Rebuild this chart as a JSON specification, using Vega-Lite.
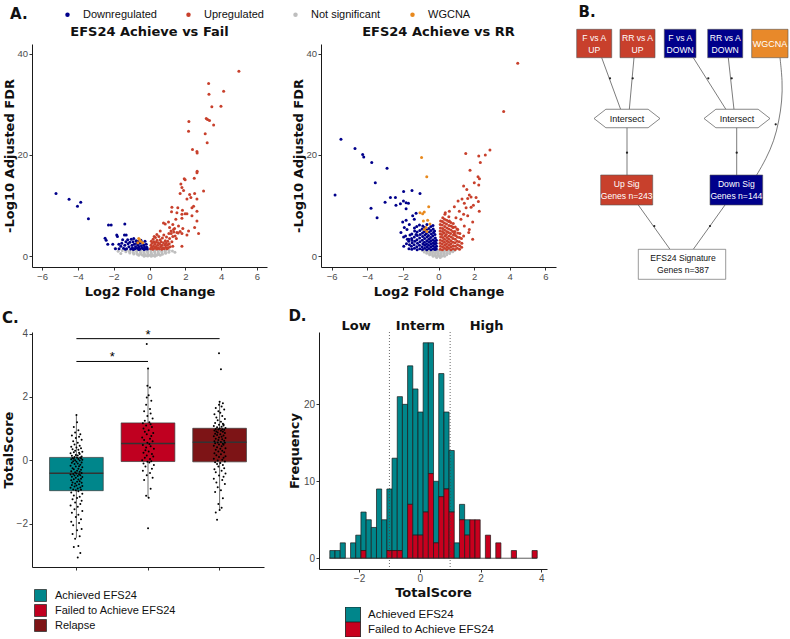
{
"$schema": "https://vega.github.io/schema/vega-lite/v6.json",
"background": "white",
"padding": {"left": 2, "top": 5, "right": 0, "bottom": 0},
"config": {
  "font": "Liberation Sans",
  "view": {"stroke": null},
  "axis": {"grid": false, "domainColor": "#1a1a1a", "domainWidth": 1, "tickColor": "#333", "tickSize": 3, "labelColor": "#4D4D4D", "labelFontSize": 10, "labelFont": "Liberation Sans", "titleFont": "DejaVu Sans", "titleFontWeight": "bold", "titleFontSize": 13, "titleColor": "#111", "labelPadding": 1.5, "titlePadding": 1},
  "title": {"font": "DejaVu Sans", "fontWeight": "bold", "fontSize": 13, "color": "#111"},
  "legend": {"labelFont": "Liberation Sans", "labelFontSize": 11, "labelColor": "#111", "titleFont": "DejaVu Sans"}
},
"datasets": {
"volL": [
{"x":-1.52,"y":1.15,"c":"N"},{"x":-1.3,"y":1.22,"c":"N"},{"x":-1.1,"y":1.1,"c":"N"},{"x":-0.9,"y":1.25,"c":"N"},{"x":-0.7,"y":1.18,"c":"N"},{"x":-0.5,"y":1.24,"c":"N"},{"x":-0.3,"y":1.12,"c":"N"},{"x":-0.1,"y":1.2,"c":"N"},{"x":0.1,"y":1.26,"c":"N"},{"x":0.3,"y":1.15,"c":"N"},{"x":0.5,"y":1.22,"c":"N"},{"x":0.7,"y":1.1,"c":"N"},{"x":0.9,"y":1.2,"c":"N"},{"x":1.1,"y":1.16,"c":"N"},{"x":1.28,"y":1.05,"c":"N"},
{"x":-1.32,"y":0.9,"c":"N"},{"x":-1.12,"y":0.95,"c":"N"},{"x":-0.92,"y":0.85,"c":"N"},{"x":-0.72,"y":0.98,"c":"N"},{"x":-0.52,"y":0.92,"c":"N"},{"x":-0.32,"y":0.88,"c":"N"},{"x":-0.12,"y":0.96,"c":"N"},{"x":0.08,"y":0.9,"c":"N"},{"x":0.28,"y":0.94,"c":"N"},{"x":0.48,"y":0.86,"c":"N"},{"x":0.68,"y":0.97,"c":"N"},{"x":0.88,"y":0.9,"c":"N"},{"x":1.08,"y":0.82,"c":"N"},
{"x":-1.1,"y":0.65,"c":"N"},{"x":-0.9,"y":0.7,"c":"N"},{"x":-0.7,"y":0.6,"c":"N"},{"x":-0.5,"y":0.72,"c":"N"},{"x":-0.3,"y":0.66,"c":"N"},{"x":-0.1,"y":0.7,"c":"N"},{"x":0.1,"y":0.64,"c":"N"},{"x":0.3,"y":0.72,"c":"N"},{"x":0.5,"y":0.62,"c":"N"},{"x":0.7,"y":0.68,"c":"N"},{"x":0.9,"y":0.6,"c":"N"},
{"x":-0.88,"y":0.45,"c":"N"},{"x":-0.68,"y":0.4,"c":"N"},{"x":-0.48,"y":0.48,"c":"N"},{"x":-0.28,"y":0.42,"c":"N"},{"x":-0.08,"y":0.46,"c":"N"},{"x":0.12,"y":0.4,"c":"N"},{"x":0.32,"y":0.44,"c":"N"},{"x":0.52,"y":0.38,"c":"N"},{"x":0.72,"y":0.42,"c":"N"},
{"x":-0.6,"y":0.2,"c":"N"},{"x":-0.4,"y":0.25,"c":"N"},{"x":-0.2,"y":0.18,"c":"N"},{"x":0,"y":0.22,"c":"N"},{"x":0.2,"y":0.15,"c":"N"},{"x":0.4,"y":0.24,"c":"N"},{"x":0.6,"y":0.2,"c":"N"},
{"x":-0.3,"y":0.02,"c":"N"},{"x":-0.1,"y":0.05,"c":"N"},{"x":0.1,"y":0,"c":"N"},{"x":0.3,"y":0.04,"c":"N"},
{"x":-1.92,"y":1.6,"c":"N"},{"x":-1.75,"y":1.0,"c":"N"},{"x":-1.6,"y":0.55,"c":"N"},{"x":1.42,"y":0.8,"c":"N"},
{"x":-5.22,"y":12.4,"c":"D"},{"x":-4.49,"y":11.25,"c":"D"},{"x":-4.02,"y":9.9,"c":"D"},{"x":-3.84,"y":10.7,"c":"D"},{"x":-3.41,"y":7.4,"c":"D"},{"x":-2.29,"y":6.2,"c":"D"},{"x":-2.14,"y":6.2,"c":"D"},{"x":-1.38,"y":6.4,"c":"D"},{"x":-2.42,"y":3.2,"c":"D"},{"x":-2.48,"y":3.55,"c":"D"},{"x":-1.83,"y":4.2,"c":"D"},{"x":-1.79,"y":3.9,"c":"D"},{"x":-2.33,"y":2.4,"c":"D"},{"x":-2.05,"y":2.4,"c":"D"},{"x":-1.71,"y":2.4,"c":"D"},{"x":-1.4,"y":4.2,"c":"D"},{"x":-1.3,"y":4.2,"c":"D"},
{"x":-1.45,"y":1.6,"c":"D"},{"x":-1.38,"y":2.2,"c":"D"},{"x":-1.32,"y":2.9,"c":"D"},{"x":-1.28,"y":1.5,"c":"D"},{"x":-1.22,"y":3.3,"c":"D"},{"x":-1.2,"y":2.5,"c":"D"},{"x":-1.15,"y":1.9,"c":"D"},{"x":-1.1,"y":2.8,"c":"D"},{"x":-1.05,"y":1.45,"c":"D"},{"x":-1.02,"y":3.4,"c":"D"},{"x":-0.98,"y":2.2,"c":"D"},{"x":-0.95,"y":1.7,"c":"D"},{"x":-0.92,"y":2.9,"c":"D"},{"x":-0.88,"y":3.5,"c":"D"},{"x":-0.85,"y":2.4,"c":"D"},{"x":-0.82,"y":1.5,"c":"D"},{"x":-0.78,"y":1.9,"c":"D"},{"x":-0.75,"y":3.1,"c":"D"},{"x":-0.72,"y":2.6,"c":"D"},{"x":-0.68,"y":1.6,"c":"D"},{"x":-0.65,"y":2.2,"c":"D"},{"x":-0.62,"y":3.0,"c":"D"},{"x":-0.58,"y":1.9,"c":"D"},{"x":-0.55,"y":2.6,"c":"D"},{"x":-0.52,"y":1.45,"c":"D"},{"x":-0.48,"y":3.2,"c":"D"},{"x":-0.45,"y":2.1,"c":"D"},{"x":-0.42,"y":1.7,"c":"D"},{"x":-0.38,"y":2.7,"c":"D"},{"x":-0.35,"y":1.5,"c":"D"},{"x":-0.32,"y":2.3,"c":"D"},{"x":-0.28,"y":1.9,"c":"D"},{"x":-0.25,"y":3.0,"c":"D"},{"x":-0.22,"y":1.5,"c":"D"},{"x":-0.18,"y":2.4,"c":"D"},{"x":-0.15,"y":1.8,"c":"D"},{"x":-0.12,"y":1.45,"c":"D"},{"x":-1.6,"y":2.0,"c":"D"},{"x":-1.55,"y":2.6,"c":"D"},{"x":-1.5,"y":3.3,"c":"D"},{"x":-1.7,"y":1.5,"c":"D"},{"x":-1.9,"y":1.5,"c":"D"},{"x":-0.9,"y":1.35,"c":"D"},{"x":-1.35,"y":1.4,"c":"D"},{"x":-0.6,"y":1.35,"c":"D"},{"x":-0.3,"y":1.35,"c":"D"},
{"x":4.99,"y":36.5,"c":"U"},{"x":3.3,"y":34.1,"c":"U"},{"x":4.14,"y":32.6,"c":"U"},{"x":3.32,"y":32.0,"c":"U"},{"x":3.48,"y":29.5,"c":"U"},{"x":3.99,"y":29.6,"c":"U"},{"x":3.17,"y":27.2,"c":"U"},{"x":3.24,"y":27.0,"c":"U"},{"x":3.35,"y":26.8,"c":"U"},{"x":3.58,"y":25.9,"c":"U"},{"x":2.2,"y":26.6,"c":"U"},{"x":2.18,"y":24.7,"c":"U"},{"x":3.11,"y":24.2,"c":"U"},{"x":3.22,"y":22.4,"c":"U"},{"x":2.4,"y":21.1,"c":"U"},{"x":2.65,"y":20.7,"c":"U"},{"x":2.66,"y":20.4,"c":"U"},{"x":2.66,"y":16.8,"c":"U"},{"x":2.65,"y":16.5,"c":"U"},{"x":1.94,"y":15.3,"c":"U"},{"x":1.99,"y":15.1,"c":"U"},{"x":2.5,"y":15.4,"c":"U"},{"x":1.75,"y":14.3,"c":"U"},{"x":1.81,"y":13.6,"c":"U"},{"x":1.9,"y":13.0,"c":"U"},{"x":1.71,"y":12.4,"c":"U"},{"x":2.24,"y":12.2,"c":"U"},{"x":2.52,"y":12.4,"c":"U"},{"x":3.02,"y":12.9,"c":"U"},{"x":2.09,"y":11.3,"c":"U"},{"x":2.31,"y":11.6,"c":"U"},{"x":2.65,"y":11.3,"c":"U"},{"x":1.25,"y":9.7,"c":"U"},{"x":1.58,"y":9.6,"c":"U"},{"x":1.84,"y":9.1,"c":"U"},{"x":2.37,"y":9.6,"c":"U"},{"x":2.46,"y":9.9,"c":"U"},{"x":1.23,"y":8.8,"c":"U"},{"x":1.53,"y":8.6,"c":"U"},{"x":1.81,"y":8.3,"c":"U"},{"x":1.99,"y":8.4,"c":"U"},{"x":2.09,"y":8.4,"c":"U"},{"x":2.37,"y":8.0,"c":"U"},{"x":2.65,"y":8.9,"c":"U"},{"x":2.65,"y":7.0,"c":"U"},{"x":2.52,"y":5.7,"c":"U"},{"x":2.74,"y":4.5,"c":"U"},{"x":2.18,"y":5.0,"c":"U"},{"x":2.09,"y":4.2,"c":"U"},{"x":1.81,"y":7.5,"c":"U"},{"x":1.47,"y":7.3,"c":"U"},{"x":1.06,"y":6.8,"c":"U"},{"x":0.78,"y":6.6,"c":"U"},{"x":0.88,"y":6.4,"c":"U"},{"x":1.3,"y":6.3,"c":"U"},{"x":1.62,"y":6.0,"c":"U"},{"x":1.86,"y":5.5,"c":"U"},{"x":1.71,"y":4.9,"c":"U"},{"x":1.12,"y":5.7,"c":"U"},{"x":1.34,"y":5.3,"c":"U"},{"x":1.53,"y":4.7,"c":"U"},{"x":1.81,"y":4.5,"c":"U"},{"x":1.21,"y":4.5,"c":"U"},{"x":1.43,"y":4.0,"c":"U"},{"x":0.6,"y":5.0,"c":"U"},{"x":0.41,"y":4.3,"c":"U"},{"x":0.26,"y":3.9,"c":"U"},{"x":1.81,"y":2.0,"c":"U"},
{"x":0.05,"y":1.5,"c":"U"},{"x":0.08,"y":2.2,"c":"U"},{"x":0.1,"y":3.0,"c":"U"},{"x":0.12,"y":1.8,"c":"U"},{"x":0.15,"y":2.6,"c":"U"},{"x":0.18,"y":1.4,"c":"U"},{"x":0.2,"y":3.4,"c":"U"},{"x":0.22,"y":2.0,"c":"U"},{"x":0.25,"y":2.9,"c":"U"},{"x":0.28,"y":1.6,"c":"U"},{"x":0.3,"y":2.4,"c":"U"},{"x":0.33,"y":3.7,"c":"U"},{"x":0.35,"y":1.9,"c":"U"},{"x":0.38,"y":2.8,"c":"U"},{"x":0.4,"y":1.45,"c":"U"},{"x":0.42,"y":3.2,"c":"U"},{"x":0.45,"y":2.2,"c":"U"},{"x":0.48,"y":1.7,"c":"U"},{"x":0.5,"y":2.7,"c":"U"},{"x":0.52,"y":3.9,"c":"U"},{"x":0.55,"y":1.5,"c":"U"},{"x":0.58,"y":2.4,"c":"U"},{"x":0.6,"y":3.3,"c":"U"},{"x":0.62,"y":1.9,"c":"U"},{"x":0.65,"y":2.9,"c":"U"},{"x":0.68,"y":1.4,"c":"U"},{"x":0.7,"y":2.2,"c":"U"},{"x":0.72,"y":3.6,"c":"U"},{"x":0.75,"y":1.7,"c":"U"},{"x":0.78,"y":2.7,"c":"U"},{"x":0.8,"y":4.2,"c":"U"},{"x":0.82,"y":1.5,"c":"U"},{"x":0.85,"y":2.3,"c":"U"},{"x":0.88,"y":3.1,"c":"U"},{"x":0.9,"y":1.8,"c":"U"},{"x":0.93,"y":2.6,"c":"U"},{"x":0.95,"y":3.8,"c":"U"},{"x":0.98,"y":1.5,"c":"U"},{"x":1.0,"y":2.2,"c":"U"},{"x":1.02,"y":3.0,"c":"U"},{"x":1.05,"y":1.7,"c":"U"},{"x":1.08,"y":4.5,"c":"U"},{"x":1.1,"y":2.5,"c":"U"},{"x":1.12,"y":3.5,"c":"U"},{"x":1.15,"y":1.9,"c":"U"},{"x":1.2,"y":5.0,"c":"U"},{"x":1.25,"y":2.9,"c":"U"},{"x":1.3,"y":3.9,"c":"U"},{"x":1.35,"y":4.8,"c":"U"},{"x":1.4,"y":5.5,"c":"U"},{"x":1.5,"y":3.5,"c":"U"},{"x":1.6,"y":4.6,"c":"U"},{"x":1.3,"y":2.0,"c":"U"},
{"x":-0.6,"y":3.5,"c":"W"},{"x":-0.5,"y":3.0,"c":"W"},{"x":-0.38,"y":2.7,"c":"W"},{"x":-0.65,"y":2.7,"c":"W"},{"x":-0.55,"y":3.3,"c":"W"}
],
"volR": [
{"x":-0.9,"y":1.15,"c":"N"},{"x":-0.75,"y":1.22,"c":"N"},{"x":-0.6,"y":1.1,"c":"N"},{"x":-0.45,"y":1.25,"c":"N"},{"x":-0.3,"y":1.18,"c":"N"},{"x":-0.15,"y":1.24,"c":"N"},{"x":0,"y":1.12,"c":"N"},{"x":0.15,"y":1.2,"c":"N"},{"x":0.3,"y":1.26,"c":"N"},{"x":0.45,"y":1.15,"c":"N"},{"x":0.6,"y":1.22,"c":"N"},{"x":0.75,"y":1.1,"c":"N"},{"x":0.9,"y":1.18,"c":"N"},
{"x":-0.8,"y":0.88,"c":"N"},{"x":-0.64,"y":0.95,"c":"N"},{"x":-0.48,"y":0.85,"c":"N"},{"x":-0.32,"y":0.92,"c":"N"},{"x":-0.16,"y":0.9,"c":"N"},{"x":0,"y":0.96,"c":"N"},{"x":0.16,"y":0.86,"c":"N"},{"x":0.32,"y":0.94,"c":"N"},{"x":0.48,"y":0.9,"c":"N"},{"x":0.64,"y":0.85,"c":"N"},{"x":0.8,"y":0.92,"c":"N"},
{"x":-0.66,"y":0.62,"c":"N"},{"x":-0.5,"y":0.58,"c":"N"},{"x":-0.34,"y":0.65,"c":"N"},{"x":-0.18,"y":0.6,"c":"N"},{"x":-0.02,"y":0.63,"c":"N"},{"x":0.14,"y":0.57,"c":"N"},{"x":0.3,"y":0.64,"c":"N"},{"x":0.46,"y":0.6,"c":"N"},{"x":0.62,"y":0.58,"c":"N"},
{"x":-0.5,"y":0.3,"c":"N"},{"x":-0.34,"y":0.34,"c":"N"},{"x":-0.18,"y":0.28,"c":"N"},{"x":-0.02,"y":0.32,"c":"N"},{"x":0.14,"y":0.27,"c":"N"},{"x":0.3,"y":0.33,"c":"N"},{"x":0.46,"y":0.3,"c":"N"},
{"x":-0.3,"y":0.02,"c":"N"},{"x":-0.14,"y":0,"c":"N"},{"x":0.02,"y":0.05,"c":"N"},{"x":0.18,"y":0.01,"c":"N"},{"x":0.34,"y":0.03,"c":"N"},
{"x":-0.1,"y":-0.25,"c":"N"},{"x":0.1,"y":-0.22,"c":"N"},
{"x":-5.48,"y":23.1,"c":"D"},{"x":-5.81,"y":12.1,"c":"D"},{"x":-4.69,"y":21.3,"c":"D"},{"x":-4.26,"y":20.1,"c":"D"},{"x":-4.2,"y":19.6,"c":"D"},{"x":-3.75,"y":18.5,"c":"D"},{"x":-2.89,"y":17.4,"c":"D"},{"x":-3.55,"y":14.5,"c":"D"},{"x":-3.79,"y":9.5,"c":"D"},{"x":-3.45,"y":7.6,"c":"D"},{"x":-3.0,"y":10.7,"c":"D"},{"x":-2.7,"y":11.6,"c":"D"},{"x":-2.42,"y":11.6,"c":"D"},{"x":-2.39,"y":10.1,"c":"D"},{"x":-2.14,"y":10.4,"c":"D"},{"x":-1.96,"y":12.8,"c":"D"},{"x":-1.97,"y":10.9,"c":"D"},{"x":-1.82,"y":10.6,"c":"D"},{"x":-1.69,"y":10.5,"c":"D"},{"x":-1.82,"y":9.4,"c":"D"},{"x":-1.49,"y":13.0,"c":"D"},{"x":-1.04,"y":12.4,"c":"D"},{"x":-2.01,"y":6.8,"c":"D"},{"x":-1.82,"y":7.1,"c":"D"},{"x":-1.92,"y":5.7,"c":"D"},{"x":-1.77,"y":5.3,"c":"D"},{"x":-1.64,"y":6.3,"c":"D"},{"x":-1.45,"y":8.0,"c":"D"},{"x":-1.26,"y":8.5,"c":"D"},{"x":-1.36,"y":7.3,"c":"D"},{"x":-1.96,"y":3.8,"c":"D"},{"x":-1.67,"y":3.4,"c":"D"},{"x":-1.49,"y":3.2,"c":"D"},{"x":-2.11,"y":4.7,"c":"D"},{"x":-1.26,"y":4.3,"c":"D"},
{"x":-1.66,"y":1.5,"c":"D"},{"x":-1.63,"y":2.3,"c":"D"},{"x":-1.67,"y":3.0,"c":"D"},
{"x":-1.5,"y":1.4,"c":"D"},{"x":-1.52,"y":2.0,"c":"D"},{"x":-1.48,"y":2.7,"c":"D"},{"x":-1.51,"y":3.5,"c":"D"},{"x":-1.5,"y":4.4,"c":"D"},
{"x":-1.35,"y":1.6,"c":"D"},{"x":-1.37,"y":2.3,"c":"D"},{"x":-1.33,"y":3.0,"c":"D"},{"x":-1.36,"y":3.8,"c":"D"},{"x":-1.34,"y":5.0,"c":"D"},{"x":-1.35,"y":5.6,"c":"D"},
{"x":-1.2,"y":1.3,"c":"D"},{"x":-1.22,"y":1.9,"c":"D"},{"x":-1.18,"y":2.6,"c":"D"},{"x":-1.21,"y":3.3,"c":"D"},{"x":-1.19,"y":4.1,"c":"D"},{"x":-1.2,"y":4.8,"c":"D"},{"x":-1.22,"y":5.9,"c":"D"},
{"x":-1.05,"y":1.5,"c":"D"},{"x":-1.07,"y":2.2,"c":"D"},{"x":-1.04,"y":2.9,"c":"D"},{"x":-1.06,"y":3.6,"c":"D"},{"x":-1.03,"y":4.3,"c":"D"},{"x":-1.05,"y":5.1,"c":"D"},{"x":-1.07,"y":6.2,"c":"D"},
{"x":-0.9,"y":1.35,"c":"D"},{"x":-0.92,"y":1.9,"c":"D"},{"x":-0.88,"y":2.5,"c":"D"},{"x":-0.91,"y":3.2,"c":"D"},{"x":-0.89,"y":3.9,"c":"D"},{"x":-0.9,"y":4.6,"c":"D"},{"x":-0.92,"y":5.4,"c":"D"},{"x":-0.88,"y":6.0,"c":"D"},
{"x":-0.78,"y":1.6,"c":"D"},{"x":-0.77,"y":2.2,"c":"D"},{"x":-0.79,"y":2.8,"c":"D"},{"x":-0.78,"y":3.5,"c":"D"},{"x":-0.76,"y":4.2,"c":"D"},{"x":-0.8,"y":4.9,"c":"D"},{"x":-0.78,"y":5.7,"c":"D"},
{"x":-0.66,"y":1.3,"c":"D"},{"x":-0.65,"y":1.9,"c":"D"},{"x":-0.67,"y":2.5,"c":"D"},{"x":-0.66,"y":3.1,"c":"D"},{"x":-0.64,"y":3.8,"c":"D"},{"x":-0.68,"y":4.5,"c":"D"},{"x":-0.66,"y":5.2,"c":"D"},{"x":-0.65,"y":6.3,"c":"D"},
{"x":-0.54,"y":1.55,"c":"D"},{"x":-0.55,"y":2.2,"c":"D"},{"x":-0.53,"y":2.8,"c":"D"},{"x":-0.54,"y":3.4,"c":"D"},{"x":-0.56,"y":4.1,"c":"D"},{"x":-0.52,"y":4.8,"c":"D"},{"x":-0.54,"y":5.5,"c":"D"},
{"x":-0.42,"y":1.3,"c":"D"},{"x":-0.43,"y":1.9,"c":"D"},{"x":-0.41,"y":2.5,"c":"D"},{"x":-0.42,"y":3.1,"c":"D"},{"x":-0.44,"y":3.7,"c":"D"},{"x":-0.4,"y":4.4,"c":"D"},{"x":-0.42,"y":5.1,"c":"D"},{"x":-0.43,"y":5.9,"c":"D"},
{"x":-0.3,"y":1.5,"c":"D"},{"x":-0.31,"y":2.1,"c":"D"},{"x":-0.29,"y":2.7,"c":"D"},{"x":-0.3,"y":3.3,"c":"D"},{"x":-0.32,"y":4.0,"c":"D"},{"x":-0.28,"y":4.7,"c":"D"},{"x":-0.3,"y":5.4,"c":"D"},{"x":-0.31,"y":6.1,"c":"D"},
{"x":-0.2,"y":1.35,"c":"D"},{"x":-0.19,"y":1.8,"c":"D"},{"x":-0.21,"y":2.4,"c":"D"},{"x":-0.2,"y":3.0,"c":"D"},{"x":-0.18,"y":3.6,"c":"D"},{"x":-0.2,"y":4.3,"c":"D"},{"x":-0.22,"y":5.0,"c":"D"},
{"x":-0.12,"y":1.45,"c":"D"},{"x":-0.11,"y":2.0,"c":"D"},{"x":-0.13,"y":2.6,"c":"D"},{"x":-0.12,"y":3.2,"c":"D"},
{"x":-1.8,"y":2.5,"c":"D"},{"x":-1.85,"y":4.0,"c":"D"},{"x":-1.75,"y":3.4,"c":"D"},{"x":-1.95,"y":2.0,"c":"D"},{"x":-1.6,"y":4.2,"c":"D"},
{"x":4.45,"y":38.1,"c":"U"},{"x":3.66,"y":28.6,"c":"U"},{"x":2.89,"y":21.0,"c":"U"},{"x":2.63,"y":20.0,"c":"U"},{"x":2.26,"y":19.8,"c":"U"},{"x":1.53,"y":20.3,"c":"U"},{"x":2.35,"y":18.5,"c":"U"},{"x":1.77,"y":17.0,"c":"U"},{"x":2.22,"y":15.7,"c":"U"},{"x":2.3,"y":15.3,"c":"U"},{"x":2.01,"y":14.5,"c":"U"},{"x":1.41,"y":13.9,"c":"U"},{"x":2.26,"y":14.1,"c":"U"},{"x":1.59,"y":13.2,"c":"U"},{"x":1.73,"y":12.1,"c":"U"},{"x":1.32,"y":11.3,"c":"U"},{"x":1.64,"y":11.4,"c":"U"},{"x":1.83,"y":11.7,"c":"U"},{"x":2.11,"y":11.6,"c":"U"},{"x":2.24,"y":10.8,"c":"U"},{"x":1.1,"y":10.9,"c":"U"},{"x":1.45,"y":10.5,"c":"U"},{"x":1.96,"y":10.1,"c":"U"},{"x":1.55,"y":9.6,"c":"U"},{"x":1.83,"y":9.7,"c":"U"},{"x":0.89,"y":9.8,"c":"U"},{"x":0.61,"y":8.9,"c":"U"},{"x":2.29,"y":8.9,"c":"U"},{"x":1.17,"y":8.9,"c":"U"},{"x":1.41,"y":8.3,"c":"U"},{"x":1.64,"y":8.0,"c":"U"},{"x":0.98,"y":7.6,"c":"U"},{"x":1.26,"y":7.3,"c":"U"},{"x":1.92,"y":6.8,"c":"U"},{"x":0.61,"y":7.0,"c":"U"},{"x":0.38,"y":8.6,"c":"U"},{"x":0.8,"y":5.8,"c":"U"},{"x":1.08,"y":5.3,"c":"U"},{"x":1.45,"y":6.0,"c":"U"},{"x":1.73,"y":5.3,"c":"U"},{"x":0.89,"y":4.5,"c":"U"},{"x":1.41,"y":4.0,"c":"U"},{"x":1.7,"y":4.7,"c":"U"},{"x":1.92,"y":3.4,"c":"U"},
{"x":0.1,"y":1.4,"c":"U"},{"x":0.11,"y":2.0,"c":"U"},{"x":0.09,"y":2.6,"c":"U"},{"x":0.1,"y":3.2,"c":"U"},{"x":0.12,"y":3.8,"c":"U"},{"x":0.1,"y":4.4,"c":"U"},{"x":0.09,"y":5.0,"c":"U"},{"x":0.11,"y":5.6,"c":"U"},{"x":0.1,"y":6.3,"c":"U"},{"x":0.12,"y":7.0,"c":"U"},
{"x":0.22,"y":1.3,"c":"U"},{"x":0.23,"y":1.9,"c":"U"},{"x":0.21,"y":2.5,"c":"U"},{"x":0.22,"y":3.1,"c":"U"},{"x":0.24,"y":3.7,"c":"U"},{"x":0.2,"y":4.3,"c":"U"},{"x":0.22,"y":4.9,"c":"U"},{"x":0.23,"y":5.5,"c":"U"},{"x":0.21,"y":6.2,"c":"U"},{"x":0.22,"y":6.9,"c":"U"},{"x":0.24,"y":7.6,"c":"U"},
{"x":0.34,"y":1.6,"c":"U"},{"x":0.35,"y":2.2,"c":"U"},{"x":0.33,"y":2.8,"c":"U"},{"x":0.34,"y":3.4,"c":"U"},{"x":0.36,"y":4.0,"c":"U"},{"x":0.32,"y":4.6,"c":"U"},{"x":0.34,"y":5.2,"c":"U"},{"x":0.35,"y":5.9,"c":"U"},{"x":0.33,"y":6.6,"c":"U"},{"x":0.34,"y":7.3,"c":"U"},{"x":0.36,"y":8.3,"c":"U"},
{"x":0.46,"y":1.35,"c":"U"},{"x":0.47,"y":1.9,"c":"U"},{"x":0.45,"y":2.5,"c":"U"},{"x":0.46,"y":3.1,"c":"U"},{"x":0.48,"y":3.7,"c":"U"},{"x":0.44,"y":4.3,"c":"U"},{"x":0.46,"y":4.9,"c":"U"},{"x":0.47,"y":5.6,"c":"U"},{"x":0.45,"y":6.4,"c":"U"},{"x":0.46,"y":7.1,"c":"U"},
{"x":0.58,"y":1.6,"c":"U"},{"x":0.59,"y":2.2,"c":"U"},{"x":0.57,"y":2.8,"c":"U"},{"x":0.58,"y":3.4,"c":"U"},{"x":0.6,"y":4.0,"c":"U"},{"x":0.56,"y":4.7,"c":"U"},{"x":0.58,"y":5.4,"c":"U"},{"x":0.59,"y":6.1,"c":"U"},{"x":0.57,"y":6.9,"c":"U"},{"x":0.58,"y":7.8,"c":"U"},
{"x":0.7,"y":1.3,"c":"U"},{"x":0.71,"y":1.9,"c":"U"},{"x":0.69,"y":2.5,"c":"U"},{"x":0.7,"y":3.1,"c":"U"},{"x":0.72,"y":3.8,"c":"U"},{"x":0.68,"y":4.5,"c":"U"},{"x":0.7,"y":5.2,"c":"U"},{"x":0.71,"y":6.0,"c":"U"},{"x":0.69,"y":6.7,"c":"U"},
{"x":0.82,"y":1.5,"c":"U"},{"x":0.83,"y":2.1,"c":"U"},{"x":0.81,"y":2.8,"c":"U"},{"x":0.82,"y":3.5,"c":"U"},{"x":0.84,"y":4.2,"c":"U"},{"x":0.8,"y":4.9,"c":"U"},{"x":0.82,"y":5.7,"c":"U"},{"x":0.83,"y":6.5,"c":"U"},
{"x":0.94,"y":1.35,"c":"U"},{"x":0.95,"y":2.0,"c":"U"},{"x":0.93,"y":2.7,"c":"U"},{"x":0.94,"y":3.4,"c":"U"},{"x":0.96,"y":4.1,"c":"U"},{"x":0.92,"y":4.9,"c":"U"},{"x":0.94,"y":5.8,"c":"U"},
{"x":1.06,"y":1.6,"c":"U"},{"x":1.07,"y":2.3,"c":"U"},{"x":1.05,"y":3.0,"c":"U"},{"x":1.06,"y":3.8,"c":"U"},{"x":1.08,"y":4.6,"c":"U"},{"x":1.04,"y":5.4,"c":"U"},
{"x":1.18,"y":1.4,"c":"U"},{"x":1.19,"y":2.1,"c":"U"},{"x":1.17,"y":2.9,"c":"U"},{"x":1.18,"y":3.7,"c":"U"},{"x":1.2,"y":4.5,"c":"U"},
{"x":1.3,"y":1.8,"c":"U"},{"x":1.31,"y":2.6,"c":"U"},{"x":1.29,"y":3.5,"c":"U"},
{"x":-0.95,"y":19.5,"c":"W"},{"x":-0.66,"y":15.7,"c":"W"},{"x":-0.55,"y":9.8,"c":"W"},{"x":-1.04,"y":8.6,"c":"W"},{"x":-0.89,"y":8.4,"c":"W"},{"x":-0.8,"y":8.75,"c":"W"},{"x":-0.61,"y":7.1,"c":"W"},{"x":-0.85,"y":7.0,"c":"W"},{"x":-0.48,"y":6.4,"c":"W"},{"x":-0.7,"y":5.7,"c":"W"},{"x":-0.8,"y":5.3,"c":"W"},{"x":-0.65,"y":4.9,"c":"W"}
],
"boxes": [
{"g":"A","lo":-2.45,"q1":-0.96,"med":-0.41,"q3":0.09,"hi":1.43},
{"g":"F","lo":-1.18,"q1":-0.04,"med":0.53,"q3":1.18,"hi":2.9},
{"g":"R","lo":-1.57,"q1":-0.05,"med":0.57,"q3":1.01,"hi":1.85}
],
"pts": [
{"g":"A","v":-3.07,"j":0.2},{"g":"A","v":-2.93,"j":0.6},{"g":"A","v":-2.74,"j":-0.4},{"g":"A","v":-2.71,"j":0.3},{"g":"A","v":-2.48,"j":-0.2},{"g":"A","v":-2.4,"j":0.5},{"g":"A","v":-2.33,"j":-0.6},{"g":"A","v":-2.21,"j":0.1},{"g":"A","v":-2.17,"j":0.8},{"g":"A","v":-2.05,"j":-0.5},{"g":"A","v":-1.98,"j":0.4},{"g":"A","v":-1.94,"j":-0.8},{"g":"A","v":-1.86,"j":0.7},{"g":"A","v":-1.79,"j":-0.1},{"g":"A","v":-1.72,"j":0.3},{"g":"A","v":-1.66,"j":-0.7},{"g":"A","v":-1.6,"j":0.9},{"g":"A","v":-1.55,"j":-0.3},{"g":"A","v":-1.47,"j":0.2},{"g":"A","v":-1.43,"j":-0.9},{"g":"A","v":-1.38,"j":0.6},{"g":"A","v":-1.33,"j":-0.2},{"g":"A","v":-1.28,"j":0.8},{"g":"A","v":-1.23,"j":-0.6},{"g":"A","v":-1.19,"j":0.1},{"g":"A","v":-1.15,"j":0.5},{"g":"A","v":-1.11,"j":-0.4},{"g":"A","v":-1.06,"j":0.9},{"g":"A","v":-1.02,"j":-0.8},{"g":"A","v":-0.98,"j":0.3},
{"g":"A","v":-0.95,"j":-0.1},{"g":"A","v":-0.93,"j":0.7},{"g":"A","v":-0.92,"j":-0.5},{"g":"A","v":-0.89,"j":0.2},{"g":"A","v":-0.87,"j":-0.9},{"g":"A","v":-0.86,"j":0.6},{"g":"A","v":-0.83,"j":-0.3},{"g":"A","v":-0.81,"j":0.9},{"g":"A","v":-0.8,"j":0.0},{"g":"A","v":-0.78,"j":-0.7},{"g":"A","v":-0.76,"j":0.4},{"g":"A","v":-0.73,"j":-0.2},{"g":"A","v":-0.71,"j":0.8},{"g":"A","v":-0.7,"j":-0.6},{"g":"A","v":-0.68,"j":0.1},{"g":"A","v":-0.66,"j":0.5},{"g":"A","v":-0.63,"j":-0.8},{"g":"A","v":-0.61,"j":0.3},{"g":"A","v":-0.6,"j":-0.4},{"g":"A","v":-0.58,"j":0.7},{"g":"A","v":-0.55,"j":-0.1},{"g":"A","v":-0.53,"j":0.9},{"g":"A","v":-0.52,"j":-0.7},{"g":"A","v":-0.5,"j":0.2},{"g":"A","v":-0.48,"j":-0.3},{"g":"A","v":-0.47,"j":0.6},{"g":"A","v":-0.45,"j":-0.9},{"g":"A","v":-0.44,"j":0.4},{"g":"A","v":-0.43,"j":-0.5},{"g":"A","v":-0.42,"j":0.0},
{"g":"A","v":-0.4,"j":0.8},{"g":"A","v":-0.38,"j":-0.2},{"g":"A","v":-0.36,"j":0.5},{"g":"A","v":-0.35,"j":-0.8},{"g":"A","v":-0.33,"j":0.1},{"g":"A","v":-0.3,"j":0.7},{"g":"A","v":-0.28,"j":-0.4},{"g":"A","v":-0.27,"j":0.3},{"g":"A","v":-0.25,"j":-0.6},{"g":"A","v":-0.22,"j":0.9},{"g":"A","v":-0.2,"j":-0.1},{"g":"A","v":-0.19,"j":0.4},{"g":"A","v":-0.17,"j":-0.9},{"g":"A","v":-0.14,"j":0.6},{"g":"A","v":-0.12,"j":-0.3},{"g":"A","v":-0.1,"j":0.2},{"g":"A","v":-0.08,"j":-0.7},{"g":"A","v":-0.07,"j":0.8},{"g":"A","v":-0.05,"j":0.0},{"g":"A","v":-0.03,"j":-0.5},{"g":"A","v":-0.01,"j":0.5},{"g":"A","v":0.0,"j":-0.2},{"g":"A","v":0.02,"j":0.9},{"g":"A","v":0.03,"j":-0.8},{"g":"A","v":0.04,"j":0.3},{"g":"A","v":0.05,"j":-0.4},{"g":"A","v":0.06,"j":0.7},{"g":"A","v":0.07,"j":-0.6},{"g":"A","v":0.08,"j":0.1},{"g":"A","v":0.09,"j":0.6},
{"g":"A","v":0.1,"j":-0.3},{"g":"A","v":0.12,"j":0.8},{"g":"A","v":0.14,"j":-0.7},{"g":"A","v":0.15,"j":0.2},{"g":"A","v":0.17,"j":-0.1},{"g":"A","v":0.2,"j":0.5},{"g":"A","v":0.22,"j":-0.9},{"g":"A","v":0.24,"j":0.4},{"g":"A","v":0.25,"j":-0.4},{"g":"A","v":0.27,"j":0.9},{"g":"A","v":0.3,"j":-0.2},{"g":"A","v":0.33,"j":0.3},{"g":"A","v":0.35,"j":-0.6},{"g":"A","v":0.38,"j":0.7},{"g":"A","v":0.4,"j":0.0},{"g":"A","v":0.43,"j":-0.8},{"g":"A","v":0.46,"j":0.5},{"g":"A","v":0.5,"j":-0.3},{"g":"A","v":0.55,"j":0.2},{"g":"A","v":0.6,"j":-0.5},{"g":"A","v":0.65,"j":0.8},{"g":"A","v":0.7,"j":-0.1},{"g":"A","v":0.74,"j":0.4},{"g":"A","v":0.78,"j":-0.7},{"g":"A","v":0.82,"j":0.6},{"g":"A","v":0.88,"j":-0.2},{"g":"A","v":0.95,"j":0.3},{"g":"A","v":1.05,"j":-0.4},{"g":"A","v":1.2,"j":0.1},{"g":"A","v":1.43,"j":0.0},
{"g":"F","v":-2.15,"j":0.0},{"g":"F","v":-1.18,"j":0.1},{"g":"F","v":-1.12,"j":-0.3},{"g":"F","v":-0.9,"j":0.4},{"g":"F","v":-0.62,"j":-0.6},{"g":"F","v":-0.55,"j":0.7},{"g":"F","v":-0.47,"j":-0.2},{"g":"F","v":-0.4,"j":0.3},{"g":"F","v":-0.33,"j":-0.8},{"g":"F","v":-0.27,"j":0.6},{"g":"F","v":-0.2,"j":-0.4},{"g":"F","v":-0.15,"j":0.9},{"g":"F","v":-0.1,"j":-0.7},{"g":"F","v":-0.07,"j":0.2},{"g":"F","v":-0.05,"j":-0.1},
{"g":"F","v":-0.03,"j":0.5},{"g":"F","v":0.0,"j":-0.9},{"g":"F","v":0.04,"j":0.3},{"g":"F","v":0.08,"j":-0.5},{"g":"F","v":0.12,"j":0.8},{"g":"F","v":0.15,"j":-0.2},{"g":"F","v":0.2,"j":0.6},{"g":"F","v":0.24,"j":-0.7},{"g":"F","v":0.28,"j":0.1},{"g":"F","v":0.32,"j":-0.4},{"g":"F","v":0.36,"j":0.9},{"g":"F","v":0.4,"j":-0.3},{"g":"F","v":0.44,"j":0.4},{"g":"F","v":0.48,"j":-0.8},{"g":"F","v":0.51,"j":0.2},
{"g":"F","v":0.55,"j":-0.1},{"g":"F","v":0.6,"j":0.7},{"g":"F","v":0.64,"j":-0.6},{"g":"F","v":0.68,"j":0.3},{"g":"F","v":0.72,"j":-0.9},{"g":"F","v":0.77,"j":0.5},{"g":"F","v":0.82,"j":-0.2},{"g":"F","v":0.86,"j":0.8},{"g":"F","v":0.9,"j":-0.5},{"g":"F","v":0.95,"j":0.1},{"g":"F","v":1.0,"j":-0.7},{"g":"F","v":1.05,"j":0.6},{"g":"F","v":1.1,"j":-0.3},{"g":"F","v":1.14,"j":0.4},{"g":"F","v":1.17,"j":-0.8},
{"g":"F","v":1.2,"j":0.2},{"g":"F","v":1.25,"j":-0.5},{"g":"F","v":1.32,"j":0.7},{"g":"F","v":1.4,"j":-0.1},{"g":"F","v":1.48,"j":0.4},{"g":"F","v":1.55,"j":-0.6},{"g":"F","v":1.62,"j":0.3},{"g":"F","v":1.75,"j":-0.3},{"g":"F","v":1.88,"j":0.5},{"g":"F","v":1.98,"j":-0.2},{"g":"F","v":2.05,"j":0.1},{"g":"F","v":2.3,"j":0.3},{"g":"F","v":2.35,"j":-0.1},{"g":"F","v":2.9,"j":0.0},{"g":"F","v":3.67,"j":-0.2},
{"g":"R","v":-1.88,"j":-0.4},{"g":"R","v":-1.65,"j":-0.6},{"g":"R","v":-1.57,"j":0.0},{"g":"R","v":-1.5,"j":0.3},{"g":"R","v":-1.38,"j":-0.2},{"g":"R","v":-1.2,"j":0.5},{"g":"R","v":-1.0,"j":-0.7},{"g":"R","v":-0.95,"j":0.2},{"g":"R","v":-0.85,"j":-0.3},{"g":"R","v":-0.75,"j":0.8},{"g":"R","v":-0.7,"j":-0.5},{"g":"R","v":-0.62,"j":0.4},{"g":"R","v":-0.58,"j":-0.9},{"g":"R","v":-0.52,"j":0.6},{"g":"R","v":-0.48,"j":-0.1},{"g":"R","v":-0.42,"j":0.9},{"g":"R","v":-0.38,"j":-0.6},{"g":"R","v":-0.33,"j":0.3},{"g":"R","v":-0.28,"j":-0.8},{"g":"R","v":-0.25,"j":0.7},{"g":"R","v":-0.2,"j":-0.2},{"g":"R","v":-0.15,"j":0.5},{"g":"R","v":-0.12,"j":-0.4},{"g":"R","v":-0.09,"j":0.1},{"g":"R","v":-0.06,"j":-0.7},
{"g":"R","v":-0.04,"j":0.8},{"g":"R","v":-0.01,"j":-0.3},{"g":"R","v":0.02,"j":0.4},{"g":"R","v":0.05,"j":-0.9},{"g":"R","v":0.08,"j":0.6},{"g":"R","v":0.1,"j":-0.1},{"g":"R","v":0.13,"j":0.9},{"g":"R","v":0.16,"j":-0.5},{"g":"R","v":0.19,"j":0.2},{"g":"R","v":0.22,"j":-0.8},{"g":"R","v":0.25,"j":0.7},{"g":"R","v":0.28,"j":-0.2},{"g":"R","v":0.3,"j":0.4},{"g":"R","v":0.33,"j":-0.6},{"g":"R","v":0.36,"j":0.1},{"g":"R","v":0.38,"j":0.9},{"g":"R","v":0.41,"j":-0.4},{"g":"R","v":0.44,"j":0.3},{"g":"R","v":0.46,"j":-0.9},{"g":"R","v":0.49,"j":0.6},{"g":"R","v":0.5,"j":-0.1},{"g":"R","v":0.52,"j":0.5},{"g":"R","v":0.54,"j":-0.7},{"g":"R","v":0.55,"j":0.8},{"g":"R","v":0.56,"j":-0.3},
{"g":"R","v":0.58,"j":0.2},{"g":"R","v":0.6,"j":-0.8},{"g":"R","v":0.62,"j":0.7},{"g":"R","v":0.64,"j":-0.2},{"g":"R","v":0.66,"j":0.4},{"g":"R","v":0.68,"j":-0.6},{"g":"R","v":0.7,"j":0.9},{"g":"R","v":0.72,"j":-0.1},{"g":"R","v":0.74,"j":0.3},{"g":"R","v":0.76,"j":-0.9},{"g":"R","v":0.78,"j":0.6},{"g":"R","v":0.8,"j":-0.4},{"g":"R","v":0.82,"j":0.1},{"g":"R","v":0.84,"j":-0.7},{"g":"R","v":0.86,"j":0.8},{"g":"R","v":0.88,"j":-0.3},{"g":"R","v":0.9,"j":0.5},{"g":"R","v":0.91,"j":-0.5},{"g":"R","v":0.93,"j":0.2},{"g":"R","v":0.94,"j":-0.8},{"g":"R","v":0.96,"j":0.7},{"g":"R","v":0.97,"j":-0.2},{"g":"R","v":0.98,"j":0.4},{"g":"R","v":0.99,"j":-0.6},{"g":"R","v":1.0,"j":0.0},
{"g":"R","v":1.02,"j":0.9},{"g":"R","v":1.04,"j":-0.4},{"g":"R","v":1.06,"j":0.3},{"g":"R","v":1.08,"j":-0.9},{"g":"R","v":1.1,"j":0.6},{"g":"R","v":1.12,"j":-0.1},{"g":"R","v":1.15,"j":0.5},{"g":"R","v":1.18,"j":-0.7},{"g":"R","v":1.22,"j":0.2},{"g":"R","v":1.26,"j":-0.3},{"g":"R","v":1.3,"j":0.8},{"g":"R","v":1.35,"j":-0.5},{"g":"R","v":1.4,"j":0.4},{"g":"R","v":1.45,"j":-0.8},{"g":"R","v":1.5,"j":0.1},{"g":"R","v":1.55,"j":-0.2},{"g":"R","v":1.6,"j":0.7},{"g":"R","v":1.65,"j":-0.6},{"g":"R","v":1.7,"j":0.3},{"g":"R","v":1.75,"j":-0.1},{"g":"R","v":1.8,"j":0.5},{"g":"R","v":1.85,"j":0.0},{"g":"R","v":2.87,"j":0.2},{"g":"R","v":3.38,"j":-0.1},{"g":"R","v":1.13,"j":0.6}
],
"sig": [{"a":1,"b":3,"y":3.84},{"a":1,"b":2,"y":3.12}],
"stars": [{"x":2,"y":3.84},{"x":1.5,"y":3.12}],
"hist": [
{"b0":-2.98,"b1":-2.809,"g":"A","n":1},{"b0":-2.809,"b1":-2.638,"g":"A","n":1},{"b0":-2.638,"b1":-2.468,"g":"A","n":2},{"b0":-2.297,"b1":-2.126,"g":"A","n":2},{"b0":-2.126,"b1":-1.955,"g":"A","n":3},
{"b0":-1.955,"b1":-1.784,"g":"A","n":5},{"b0":-1.955,"b1":-1.784,"g":"F","n":1},
{"b0":-1.784,"b1":-1.614,"g":"A","n":5},{"b0":-1.614,"b1":-1.443,"g":"A","n":4},{"b0":-1.443,"b1":-1.272,"g":"A","n":9},{"b0":-1.272,"b1":-1.101,"g":"A","n":5},
{"b0":-1.101,"b1":-0.93,"g":"A","n":8},{"b0":-1.101,"b1":-0.93,"g":"F","n":1},
{"b0":-0.93,"b1":-0.759,"g":"A","n":12},{"b0":-0.93,"b1":-0.759,"g":"F","n":1},
{"b0":-0.759,"b1":-0.589,"g":"A","n":20},{"b0":-0.759,"b1":-0.589,"g":"F","n":1},
{"b0":-0.589,"b1":-0.418,"g":"A","n":20},
{"b0":-0.418,"b1":-0.247,"g":"A","n":18},{"b0":-0.418,"b1":-0.247,"g":"F","n":7},
{"b0":-0.247,"b1":-0.076,"g":"A","n":19},{"b0":-0.247,"b1":-0.076,"g":"F","n":3},
{"b0":-0.076,"b1":0.094,"g":"A","n":16},{"b0":-0.076,"b1":0.094,"g":"F","n":3},
{"b0":0.094,"b1":0.265,"g":"A","n":22},{"b0":0.094,"b1":0.265,"g":"F","n":6},
{"b0":0.265,"b1":0.436,"g":"A","n":17},{"b0":0.265,"b1":0.436,"g":"F","n":11},
{"b0":0.436,"b1":0.607,"g":"A","n":8},{"b0":0.436,"b1":0.607,"g":"F","n":2},
{"b0":0.607,"b1":0.778,"g":"A","n":16},{"b0":0.607,"b1":0.778,"g":"F","n":8},
{"b0":0.778,"b1":0.948,"g":"A","n":10},{"b0":0.778,"b1":0.948,"g":"F","n":9},
{"b0":0.948,"b1":1.119,"g":"A","n":8},{"b0":0.948,"b1":1.119,"g":"F","n":6},
{"b0":1.119,"b1":1.29,"g":"A","n":2},
{"b0":1.29,"b1":1.461,"g":"A","n":2},{"b0":1.29,"b1":1.461,"g":"F","n":5},
{"b0":1.461,"b1":1.632,"g":"A","n":2},{"b0":1.461,"b1":1.632,"g":"F","n":3},
{"b0":1.632,"b1":1.802,"g":"F","n":5},{"b0":1.802,"b1":1.973,"g":"F","n":5},{"b0":2.144,"b1":2.315,"g":"F","n":3},{"b0":2.486,"b1":2.656,"g":"F","n":2},{"b0":2.998,"b1":3.169,"g":"F","n":1},{"b0":3.681,"b1":3.852,"g":"F","n":1}
],
"cuts": [{"v":-1},{"v":1}],
"zones": [{"t":"Low","x":-2.1},{"t":"Interm","x":0.02},{"t":"High","x":2.2}],
"fbox": [
{"k":"up","x1":6.7,"x2":41.7,"y1":28.3,"y2":56.7},
{"k":"up","x1":50,"x2":85,"y1":28.3,"y2":56.7},
{"k":"down","x1":94.3,"x2":126,"y1":28.3,"y2":56.7},
{"k":"down","x1":137.7,"x2":172.7,"y1":28.3,"y2":56.7},
{"k":"wgcna","x1":181.7,"x2":218,"y1":28.3,"y2":56.7},
{"k":"up","x1":30.7,"x2":82.7,"y1":174,"y2":204},
{"k":"down","x1":140,"x2":192.7,"y1":174,"y2":204},
{"k":"plain","x1":68.3,"x2":155.7,"y1":248.3,"y2":278.3}
],
"ftext1": [
{"k":"wgcna","x":200,"y":42.5,"t":"WGCNA"},
{"k":"plain","x":57,"y":117.5,"t":"Intersect"},
{"k":"plain","x":167,"y":117.5,"t":"Intersect"}
],
"ftext2": [
{"k":"up","x":24.2,"y":42.5,"t":"F vs A\nUP"},
{"k":"up","x":67.5,"y":42.5,"t":"RR vs A\nUP"},
{"k":"down","x":110.2,"y":42.5,"t":"F vs A\nDOWN"},
{"k":"down","x":155.2,"y":42.5,"t":"RR vs A\nDOWN"},
{"k":"up","x":56.7,"y":189,"t":"Up Sig\nGenes n=243"},
{"k":"down","x":166.3,"y":189,"t":"Down Sig\nGenes n=144"},
{"k":"plain","x":113,"y":263.3,"t":"EFS24 Signature\nGenes n=387"}
],
"fhex": [{"x":57,"y":117.5},{"x":167,"y":117.5}],
"fedge": [
{"x1":31.7,"y1":56.7,"x2":50.7,"y2":108.5},
{"x1":64,"y1":56.7,"x2":59.3,"y2":108.5},
{"x1":123.3,"y1":56.7,"x2":156,"y2":108.5},
{"x1":158.3,"y1":56.7,"x2":164,"y2":108.5},
{"x1":57,"y1":126.5,"x2":57,"y2":174},
{"x1":166.7,"y1":126.5,"x2":166.7,"y2":174},
{"x1":68.3,"y1":204,"x2":100,"y2":248.3},
{"x1":155,"y1":204,"x2":123.3,"y2":248.3}
],
"fcurve": [
{"i":0,"x":210,"y":56.7},{"i":1,"x":212.5,"y":80},{"i":2,"x":212,"y":100},{"i":3,"x":209,"y":120},{"i":4,"x":204,"y":140},{"i":5,"x":196,"y":158},{"i":6,"x":186.7,"y":174}
],
"farrow": [
{"x":40,"y":77.3},{"x":62.7,"y":77.3},{"x":138.3,"y":77.3},{"x":161.7,"y":77.3},{"x":57,"y":151.7},{"x":166.7,"y":151.7},{"x":205.7,"y":123.3},{"x":84.3,"y":225},{"x":140,"y":225}
],
"flabel": [{"x":8.5,"y":11,"t":"B."}]
},
"hconcat": [
 {
  "vconcat": [
   {
    "hconcat": [
     {
      "width": 235, "height": 223,
      "title": {"text": "EFS24 Achieve vs Fail", "frame": "group", "offset": 5},
      "layer": [
       {
        "data": {"name": "volL"},
        "mark": {"type": "circle", "size": 9, "opacity": 1},
        "encoding": {
         "x": {"field": "x", "type": "quantitative", "scale": {"domain": [-6.56, 6.56], "nice": false, "zero": false}, "axis": {"values": [-6,-4,-2,0,2,4,6], "title": "Log2 Fold Change", "labelFontSize": 9.5, "titlePadding": 4}},
         "y": {"field": "y", "type": "quantitative", "scale": {"domain": [-2.1, 41.9], "nice": false, "zero": false}, "axis": {"values": [0,20,40], "title": "-Log10 Adjusted FDR", "labelFontSize": 9.5, "titlePadding": 0}},
         "color": {"field": "c", "type": "nominal", "scale": {"domain": ["D","U","N","W"], "range": ["#00008B","#C8402C","#BEBEBE","#E8891D"]},
          "legend": {"orient": "none", "legendX": -22, "legendY": -35, "direction": "horizontal", "title": "A.", "titleOrient": "left", "titleFontSize": 15, "titleFontWeight": "bold", "titleFont": "DejaVu Sans", "titleColor": "#111", "titlePadding": 34, "symbolType": "circle", "symbolSize": 20, "labelFontSize": 11, "labelOffset": 10, "columnPadding": 26,
           "labelExpr": "{'D':'Downregulated','U':'Upregulated','N':'Not significant','W':'WGCNA'}[datum.label]"}}
        }
       },
       {"mark": {"type": "rule", "strokeDash": [4, 3], "color": "#333", "strokeWidth": 0.8}, "encoding": {"y": {"datum": 1.3}}}
      ]
     },
     {
      "width": 235, "height": 223,
      "title": {"text": "EFS24 Achieve vs RR", "frame": "group", "offset": 5},
      "layer": [
       {
        "data": {"name": "volR"},
        "mark": {"type": "circle", "size": 9, "opacity": 1},
        "encoding": {
         "x": {"field": "x", "type": "quantitative", "scale": {"domain": [-6.6, 6.6], "nice": false, "zero": false}, "axis": {"values": [-6,-4,-2,0,2,4,6], "title": "Log2 Fold Change", "labelFontSize": 9.5, "titlePadding": 4}},
         "y": {"field": "y", "type": "quantitative", "scale": {"domain": [-2.1, 41.9], "nice": false, "zero": false}, "axis": {"values": [0,20,40], "title": "-Log10 Adjusted FDR", "labelFontSize": 9.5, "titlePadding": 0}},
         "color": {"field": "c", "type": "nominal", "scale": {"domain": ["D","U","N","W"], "range": ["#00008B","#C8402C","#BEBEBE","#E8891D"]}}
        }
       },
       {"mark": {"type": "rule", "strokeDash": [4, 3], "color": "#333", "strokeWidth": 0.8}, "encoding": {"y": {"datum": 1.3}}}
      ]
     }
    ],
    "spacing": 25
   },
   {
    "hconcat": [
     {
      "width": 232, "height": 235,
      "title": {"text": "C.", "anchor": "start", "fontSize": 15, "offset": 3},
      "layer": [
       {
        "layer": [
         {
          "data": {"name": "boxes"},
          "mark": {"type": "rule", "color": "#333", "strokeWidth": 0.7},
          "encoding": {
           "x": {"field": "g", "type": "nominal", "scale": {"domain": ["A","F","R"], "paddingInner": 0.25, "paddingOuter": 0.245}, "axis": {"labels": false, "title": null, "ticks": true}},
           "y": {"field": "lo", "type": "quantitative", "title": "TotalScore", "scale": {"domain": [-3.37, 4.05], "nice": false, "zero": false}, "axis": {"values": [-2,0,2,4], "title": "TotalScore"}},
           "y2": {"field": "q1"}
          }
         },
         {
          "data": {"name": "boxes"},
          "mark": {"type": "rule", "color": "#333", "strokeWidth": 0.7},
          "encoding": {
           "x": {"field": "g", "type": "nominal"},
           "y": {"field": "q3", "type": "quantitative", "title": "TotalScore"},
           "y2": {"field": "hi"}
          }
         },
         {
          "data": {"name": "boxes"},
          "mark": {"type": "bar", "stroke": "#3a3a3a", "strokeWidth": 0.7},
          "encoding": {
           "x": {"field": "g", "type": "nominal"},
           "y": {"field": "q1", "type": "quantitative", "title": "TotalScore"},
           "y2": {"field": "q3"},
           "color": {"field": "g", "type": "nominal", "scale": {"domain": ["A","F","R"], "range": ["#00868B","#C00020","#7D1416"]},
            "legend": {"orient": "none", "legendX": 2, "legendY": 256, "direction": "vertical", "title": null, "symbolType": "square", "symbolSize": 144, "symbolStrokeColor": "#333", "symbolStrokeWidth": 0.8, "rowPadding": 0, "clipHeight": 15, "labelOffset": 8, "labelFontSize": 11,
             "labelExpr": "{'A':'Achieved EFS24','F':'Failed to Achieve EFS24','R':'Relapse'}[datum.label]"}}
          }
         },
         {
          "data": {"name": "boxes"},
          "mark": {"type": "bar", "fillOpacity": 0, "stroke": "#333", "strokeWidth": 1.6},
          "encoding": {
           "x": {"field": "g", "type": "nominal"},
           "y": {"field": "med", "type": "quantitative", "title": "TotalScore"},
           "y2": {"field": "med"}
          }
         }
        ]
       },
       {
        "data": {"name": "pts"},
        "mark": {"type": "circle", "size": 4, "color": "#000", "opacity": 1},
        "encoding": {
         "x": {"field": "g", "type": "nominal", "scale": {"domain": ["A","F","R"], "paddingInner": 0.25, "paddingOuter": 0.245}, "axis": null},
         "xOffset": {"field": "j", "type": "quantitative", "scale": {"domain": [-1, 1], "range": [20.4, 33.4]}},
         "y": {"field": "v", "type": "quantitative", "title": "TotalScore"}
        }
       },
       {
        "layer": [
         {
          "data": {"name": "sig"},
          "mark": {"type": "rule", "color": "#000", "strokeWidth": 1},
          "encoding": {
           "x": {"field": "a", "type": "quantitative", "scale": {"domain": [0.38, 3.62], "nice": false, "zero": false}, "axis": null},
           "x2": {"field": "b"},
           "y": {"field": "y", "type": "quantitative", "title": "TotalScore"}
          }
         },
         {
          "data": {"name": "stars"},
          "mark": {"type": "text", "text": "*", "fontSize": 13, "font": "Liberation Sans", "baseline": "alphabetic", "align": "center", "color": "#000"},
          "encoding": {
           "x": {"field": "x", "type": "quantitative"},
           "y": {"field": "y", "type": "quantitative", "title": "TotalScore"}
          }
         }
        ]
       }
      ],
      "resolve": {"scale": {"x": "independent", "xOffset": "independent"}, "axis": {"x": "independent"}}
     },
     {
      "width": 228, "height": 237,
      "title": {"text": "D.", "anchor": "start", "fontSize": 15, "offset": -4},
      "layer": [
       {
        "data": {"name": "hist"},
        "mark": {"type": "bar", "stroke": "#1a1a1a", "strokeWidth": 0.7, "binSpacing": 0},
        "encoding": {
         "x": {"field": "b0", "type": "quantitative", "bin": "binned", "scale": {"domain": [-3.32, 4.19], "nice": false, "zero": false}, "axis": {"values": [-2,0,2,4], "title": "TotalScore", "titlePadding": 3}},
         "x2": {"field": "b1"},
         "y": {"field": "n", "type": "quantitative", "stack": "zero", "scale": {"domain": [-1.4, 29.4], "nice": false, "zero": false}, "axis": {"values": [0,10,20], "title": "Frequency", "titlePadding": 2}},
         "color": {"field": "g", "type": "nominal", "scale": {"domain": ["A","F"], "range": ["#00868B","#C8001E"]},
          "legend": {"orient": "none", "legendX": 26, "legendY": 275, "direction": "vertical", "title": null, "symbolType": "square", "symbolSize": 225, "symbolStrokeColor": "#1a1a1a", "symbolStrokeWidth": 0.8, "rowPadding": 0, "clipHeight": 15, "labelOffset": 7, "labelFontSize": 11.5,
           "labelExpr": "{'A':'Achieved EFS24','F':'Failed to Achieve EFS24'}[datum.label]"}},
         "order": {"field": "g", "sort": "descending"}
        }
       },
       {
        "data": {"values": [{}]},
        "mark": {"type": "rule", "color": "#333", "strokeWidth": 0.8},
        "encoding": {"x": {"datum": -2.98}, "x2": {"datum": 3.852}, "y": {"datum": 0}}
       },
       {
        "data": {"name": "cuts"},
        "mark": {"type": "rule", "color": "#444", "strokeWidth": 0.8, "strokeDash": [1, 2]},
        "encoding": {"x": {"field": "v", "type": "quantitative"}}
       },
       {
        "data": {"name": "zones"},
        "mark": {"type": "text", "font": "DejaVu Sans", "fontWeight": "bold", "fontSize": 13, "baseline": "alphabetic", "align": "center", "color": "#111"},
        "encoding": {"x": {"field": "x", "type": "quantitative"}, "y": {"datum": 29.7}, "text": {"field": "t"}}
       }
      ]
     }
    ],
    "spacing": 24,
    "resolve": {"scale": {"color": "independent"}, "legend": {"color": "independent"}}
   }
  ],
  "spacing": 10,
  "resolve": {"scale": {"color": "independent"}, "legend": {"color": "independent"}}
 },
 {
  "width": 218, "height": 247,
  "layer": [
   {
    "data": {"name": "fedge"},
    "mark": {"type": "rule", "color": "#444", "strokeWidth": 0.7},
    "encoding": {
     "x": {"field": "x1", "type": "quantitative", "scale": {"domain": [0, 218], "nice": false, "zero": false}, "axis": null},
     "y": {"field": "y1", "type": "quantitative", "scale": {"domain": [43, 290], "nice": false, "zero": false, "reverse": true}, "axis": null},
     "x2": {"field": "x2"},
     "y2": {"field": "y2"}
    }
   },
   {
    "data": {"name": "fcurve"},
    "mark": {"type": "line", "color": "#444", "strokeWidth": 0.7, "interpolate": "basis"},
    "encoding": {"x": {"field": "x", "type": "quantitative"}, "y": {"field": "y", "type": "quantitative"}, "order": {"field": "i"}}
   },
   {
    "data": {"name": "farrow"},
    "mark": {"type": "circle", "size": 5, "color": "#222", "opacity": 1},
    "encoding": {"x": {"field": "x", "type": "quantitative"}, "y": {"field": "y", "type": "quantitative"}}
   },
   {
    "data": {"name": "fbox"},
    "mark": {"type": "rect", "stroke": "#555", "strokeWidth": 0.6},
    "encoding": {
     "x": {"field": "x1", "type": "quantitative"}, "x2": {"field": "x2"},
     "y": {"field": "y1", "type": "quantitative"}, "y2": {"field": "y2"},
     "color": {"field": "k", "type": "nominal", "scale": {"domain": ["up","down","wgcna","plain"], "range": ["#C8402C","#00008B","#E8892A","#FFFFFF"]}, "legend": null}
    }
   },
   {
    "data": {"name": "fhex"},
    "mark": {"type": "point", "shape": "M-1,0L-0.64,-0.28L0.64,-0.28L1,0L0.64,0.28L-0.64,0.28Z", "size": 4356, "filled": true, "fill": "white", "stroke": "#555", "strokeWidth": 0.7, "opacity": 1},
    "encoding": {"x": {"field": "x", "type": "quantitative"}, "y": {"field": "y", "type": "quantitative"}}
   },
   {
    "data": {"name": "ftext1"},
    "mark": {"type": "text", "fontSize": 9, "baseline": "middle", "align": "center", "font": "Liberation Sans"},
    "encoding": {
     "x": {"field": "x", "type": "quantitative"}, "y": {"field": "y", "type": "quantitative"},
     "text": {"field": "t"},
     "color": {"field": "k", "type": "nominal", "scale": {"domain": ["up","down","wgcna","plain"], "range": ["#FFFFFF","#FFFFFF","#FFFFFF","#111111"]}, "legend": null}
    }
   },
   {
    "data": {"name": "ftext2"},
    "mark": {"type": "text", "fontSize": 8.6, "lineBreak": "\n", "lineHeight": 12, "baseline": "middle", "align": "center", "font": "Liberation Sans", "dy": -6},
    "encoding": {
     "x": {"field": "x", "type": "quantitative"}, "y": {"field": "y", "type": "quantitative"},
     "text": {"field": "t"},
     "color": {"field": "k", "type": "nominal", "scale": {"domain": ["up","down","wgcna","plain"], "range": ["#FFFFFF","#FFFFFF","#FFFFFF","#111111"]}, "legend": null}
    }
   },
   {
    "data": {"name": "flabel"},
    "mark": {"type": "text", "font": "DejaVu Sans", "fontWeight": "bold", "fontSize": 15, "align": "left", "baseline": "middle", "color": "#111"},
    "encoding": {"x": {"field": "x", "type": "quantitative"}, "y": {"field": "y", "type": "quantitative"}, "text": {"field": "t"}}
   }
  ],
  "resolve": {"scale": {"color": "independent"}}
 }
],
"spacing": 14,
"resolve": {"scale": {"color": "independent"}, "legend": {"color": "independent"}}
}
